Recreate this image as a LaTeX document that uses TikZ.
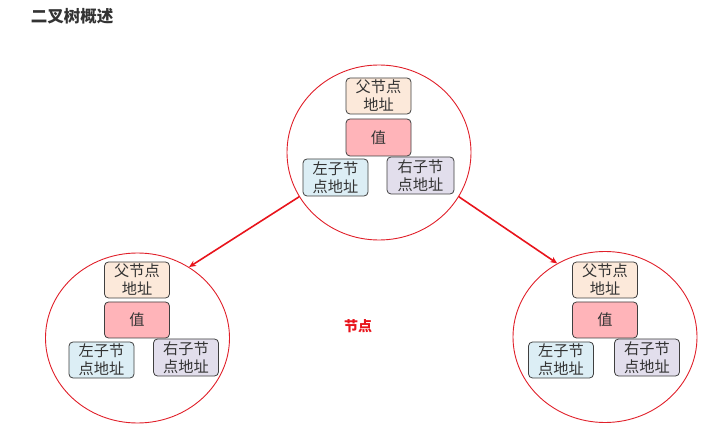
\documentclass[tikz,border=0pt]{standalone}
\usepackage{fontspec}
\usepackage{tikz}
\usetikzlibrary{shapes.geometric,arrows.meta}
\newfontfamily\cjk{Noto Sans CJK SC}
\definecolor{ringred}{HTML}{E0202A}
\definecolor{arrowred}{HTML}{E8141C}
\definecolor{boxline}{HTML}{3F3F3F}
\definecolor{parentfill}{HTML}{FCE9DA}
\definecolor{valuefill}{HTML}{FFB4B9}
\definecolor{leftfill}{HTML}{DCEEF5}
\definecolor{rightfill}{HTML}{E2DEEC}
\definecolor{titlegray}{HTML}{333333}

\begin{document}
\begin{tikzpicture}[x=1pt,y=-1pt,
    ring/.style={draw=ringred, line width=0.9pt, ellipse, inner sep=0pt,
      minimum width=184pt, minimum height=#1},
    field/.style={draw=boxline, line width=0.8pt, rounded corners=4pt,
      minimum width=65pt, minimum height=36pt, inner sep=0pt, align=center,
      text=titlegray, font=\cjk\fontsize{15.2}{18}\selectfont},
    link/.style={draw=arrowred, line width=1.6pt, -{Stealth[length=7pt,width=6pt]}}]
    \useasboundingbox (0,0) rectangle (707,430);
    % Title
    \node[font=\cjk\bfseries\fontsize{16.5}{18}\selectfont, text=titlegray] (title) at (72,16) {二叉树概述};
    % Draw the three nodes as rings
    \node[ring=175pt] (root) at (379,152.5) {};
    \node[ring=170pt] (lnode) at (137.5,338) {};
    \node[ring=171pt] (rnode) at (605,337) {};
    % Fields of the root
    \node[field, fill=parentfill] (rootparent) at (378.5,96) {父节点\\地址};
    \node[field, fill=valuefill, minimum height=37pt] (rootvalue) at (378.5,137.5) {值};
    \node[field, fill=leftfill, minimum height=37pt] (rootleft) at (335.5,177.5) {左子节\\点地址};
    \node[field, fill=rightfill, minimum height=37pt, minimum width=67pt] (rootright) at (420.5,175.5) {右子节\\点地址};
    % Fields of the left child
    \node[field, fill=parentfill] (lparent) at (137,280) {父节点\\地址};
    \node[field, fill=valuefill] (lvalue) at (137,320) {值};
    \node[field, fill=leftfill] (lleft) at (101.5,360) {左子节\\点地址};
    \node[field, fill=rightfill, minimum height=37pt] (lright) at (186,357.5) {右子节\\点地址};
    % Fields of the right child
    \node[field, fill=parentfill] (rparent) at (605,280) {父节点\\地址};
    \node[field, fill=valuefill] (rvalue) at (605,320) {值};
    \node[field, fill=leftfill] (rleft) at (561,360) {左子节\\点地址};
    \node[field, fill=rightfill, minimum height=37pt] (rright) at (647,357.5) {右子节\\点地址};
    % Label in the middle
    \node[font=\cjk\bfseries\fontsize{14}{16}\selectfont, text=arrowred] (caption) at (358,326) {节点};
    % Draw the links
    \draw[link] (root.209) -- (lnode.54);
    \draw[link] (root.331) -- (rnode.123);
\end{tikzpicture}
\end{document}
